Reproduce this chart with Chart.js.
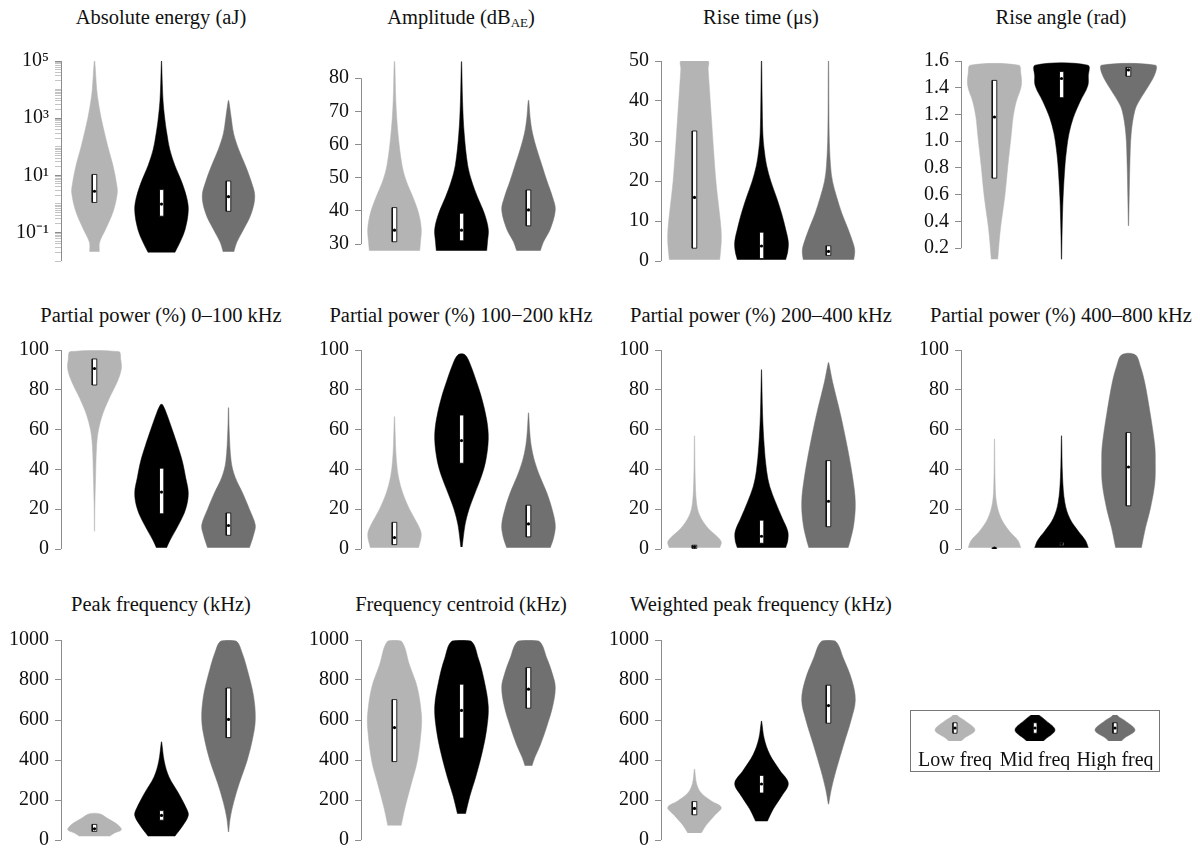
<!DOCTYPE html>
<html>
<head>
<meta charset="utf-8">
<script src="https://cdn.jsdelivr.net/npm/chart.js@4.4.1/dist/chart.umd.min.js"></script>
<style>
  body { margin: 0; width: 1200px; height: 854px; overflow: hidden; background: #fff; font-family: "Liberation Serif", serif; }
  canvas { position: absolute; }
  .title { position: absolute; width: 300px; text-align: center; font-size: 20.5px; line-height: 22px; color: #111; white-space: nowrap; }
  .title sub { font-size: 13px; line-height: 0; vertical-align: -3px; }
  #legend { position: absolute; left: 910px; top: 710px; width: 250px; height: 62px; border: 1px solid #777; box-sizing: border-box; }
</style>
</head>
<body>
<script>
// groups
const groupNames = ['Low freq', 'Mid freq', 'High freq'];
const groupColors = ['#b4b4b4', '#000000', '#707070'];

// violin outlines: [value, relative half width] from bottom to top
const energyLow = [[0.021, 0.18], [0.045, 0.19], [0.126, 0.41], [0.59, 0.71], [2.4, 0.85], [4.6, 0.83], [22, 0.69], [100, 0.5], [1000, 0.25], [3800, 0.14], [10700, 0.08], [100000, 0.01]];
const energyMid = [[0.02, 0.5], [0.045, 0.69], [0.126, 0.88], [0.59, 1.0], [1.66, 0.94], [6, 0.75], [22, 0.5], [80, 0.31], [290, 0.2], [1000, 0.12], [3800, 0.06], [16000, 0.03], [100000, 0.005]];
const energyHigh = [[0.021, 0.2], [0.045, 0.31], [0.126, 0.56], [0.46, 0.85], [1.86, 0.98], [6, 0.85], [22, 0.63], [80, 0.38], [290, 0.19], [1050, 0.1], [4100, 0.01]];

const amplitudeLow = [[28, 0.94], [30.7, 0.97], [34.5, 1.0], [39.3, 0.9], [44.1, 0.69], [49, 0.44], [53.8, 0.28], [63.4, 0.13], [73, 0.05], [85, 0.01]];
const amplitudeMid = [[28, 0.94], [30.7, 0.97], [34.5, 1.0], [39.3, 0.85], [44.1, 0.6], [49, 0.38], [53.8, 0.23], [63.4, 0.1], [73, 0.04], [85, 0.006]];
const amplitudeHigh = [[28, 0.44], [30.7, 0.56], [34.5, 0.81], [40.3, 1.0], [44.1, 0.9], [49, 0.69], [53.8, 0.5], [58.6, 0.31], [63.4, 0.15], [68.2, 0.06], [73.3, 0.01]];

const riseTimeLow = [[0.3, 0.94], [1.6, 0.96], [5, 1.0], [8, 0.99], [12, 0.93], [19.9, 0.8], [27.9, 0.71], [35.9, 0.63], [43.9, 0.55], [48, 0.51], [50, 0.5]];
const riseTimeMid = [[0.3, 0.9], [2.4, 0.98], [4.8, 1.0], [8, 0.9], [11.9, 0.75], [15.9, 0.56], [19.9, 0.35], [23.9, 0.19], [27.9, 0.1], [31.9, 0.05], [39.9, 0.025], [50, 0.006]];
const riseTimeHigh = [[0.3, 0.94], [2.4, 0.98], [4, 0.94], [8, 0.73], [11.9, 0.5], [15.9, 0.31], [19.9, 0.15], [23.9, 0.075], [31.9, 0.025], [50, 0.006]];

const riseAngleLow = [[0.117, 0.12], [0.343, 0.22], [0.581, 0.38], [0.819, 0.5], [1.057, 0.63], [1.176, 0.69], [1.295, 0.81], [1.414, 1.0], [1.51, 0.98], [1.569, 0.9]];
const riseAngleMid = [[0.117, 0.006], [0.343, 0.025], [0.581, 0.06], [0.819, 0.13], [0.938, 0.19], [1.057, 0.28], [1.176, 0.44], [1.295, 0.69], [1.414, 0.98], [1.486, 1.0], [1.569, 0.98]];
const riseAngleHigh = [[0.367, 0.006], [0.581, 0.025], [0.819, 0.05], [1.057, 0.1], [1.224, 0.23], [1.295, 0.38], [1.414, 0.75], [1.51, 1.0], [1.569, 1.0]];

const pp0Low = [[8.9, 0.004], [20, 0.012], [36, 0.04], [52, 0.08], [60, 0.15], [68, 0.31], [76, 0.56], [84, 0.85], [90.4, 1.0], [95.2, 0.98], [99.2, 0.9]];
const pp0Mid = [[0.6, 0.19], [4.2, 0.31], [12, 0.63], [20, 0.9], [28, 1.0], [36, 0.9], [44, 0.78], [52, 0.6], [60, 0.4], [68, 0.19], [72.5, 0.04]];
const pp0High = [[0.6, 0.78], [7.3, 0.94], [12, 1.0], [20, 0.78], [28, 0.53], [36, 0.25], [44, 0.1], [60, 0.025], [71, 0.006]];

const pp1Low = [[0.6, 0.9], [7.3, 1.0], [12, 0.88], [20, 0.56], [28, 0.31], [36, 0.15], [44, 0.075], [52, 0.04], [66.5, 0.006]];
const pp1Mid = [[1, 0.025], [12, 0.13], [20, 0.28], [28, 0.5], [36, 0.73], [44, 0.9], [55.3, 1.0], [64.9, 0.94], [76, 0.75], [84, 0.56], [92, 0.35], [97.6, 0.13]];
const pp1High = [[0.6, 0.81], [5.8, 0.94], [12, 1.0], [20, 0.88], [28, 0.69], [36, 0.44], [44, 0.23], [52, 0.1], [60, 0.04], [68.4, 0.006]];

const pp2Low = [[0.6, 0.94], [3.4, 1.0], [5.8, 0.88], [10.5, 0.5], [17, 0.19], [23.3, 0.075], [36, 0.025], [56.9, 0.004]];
const pp2Mid = [[0.6, 0.9], [4.2, 0.98], [8.9, 0.98], [15.3, 0.78], [23.3, 0.53], [31.3, 0.31], [39.3, 0.19], [52, 0.1], [68, 0.04], [90.1, 0.004]];
const pp2High = [[0.6, 0.73], [4.2, 0.81], [12, 0.94], [23.3, 1.0], [36, 0.9], [52, 0.69], [68, 0.44], [84, 0.15], [93.6, 0.01]];

const pp3Low = [[0.6, 0.98], [4.2, 0.88], [8.9, 0.56], [15.3, 0.25], [23.3, 0.075], [32.9, 0.025], [55.3, 0.004]];
const pp3Mid = [[0.6, 1.0], [4.2, 0.9], [8.9, 0.63], [15.3, 0.31], [23.3, 0.125], [36, 0.04], [56.9, 0.004]];
const pp3High = [[0.6, 0.48], [10.5, 0.63], [20, 0.81], [33, 0.98], [44, 1.0], [52, 0.98], [68, 0.81], [84, 0.6], [92, 0.44], [97.6, 0.25]];

const peakLow = [[19, 0.56], [35, 0.75], [51, 1.0], [75, 0.88], [107, 0.5], [131, 0.19]];
const peakMid = [[19, 0.5], [75, 0.81], [123, 1.0], [155, 0.94], [235, 0.63], [315, 0.28], [395, 0.1], [491, 0.006]];
const peakHigh = [[40, 0.006], [107, 0.06], [187, 0.19], [283, 0.4], [395, 0.69], [507, 0.9], [603, 1.0], [715, 0.94], [827, 0.75], [939, 0.5], [995, 0.28]];

const centroidLow = [[72, 0.25], [155, 0.38], [283, 0.63], [395, 0.85], [555, 1.0], [635, 1.0], [763, 0.85], [875, 0.56], [995, 0.25]];
const centroidMid = [[131, 0.15], [219, 0.31], [315, 0.53], [443, 0.78], [555, 0.94], [667, 1.0], [795, 0.85], [907, 0.63], [995, 0.35]];
const centroidHigh = [[371, 0.13], [411, 0.23], [475, 0.44], [571, 0.69], [667, 0.9], [763, 1.0], [827, 0.9], [907, 0.69], [995, 0.38]];

const weightedLow = [[35, 0.25], [75, 0.44], [123, 0.75], [163, 1.0], [195, 0.63], [235, 0.25], [283, 0.075], [355, 0.006]];
const weightedMid = [[94, 0.22], [155, 0.44], [219, 0.75], [283, 1.0], [347, 0.69], [427, 0.31], [507, 0.1], [595, 0.006]];
const weightedHigh = [[179, 0.006], [251, 0.1], [347, 0.28], [475, 0.56], [603, 0.85], [699, 1.0], [795, 0.88], [907, 0.56], [995, 0.25]];

// inner boxes: [q1, median, q3] per group
const energyBoxes = [[1.12, 2.76, 10.7], [0.37, 0.98, 3.16], [0.55, 1.78, 6.3]];
const amplitudeBoxes = [[30.7, 34.2, 41.0], [31.0, 34.2, 39.3], [35.5, 40.3, 46.3]];
const riseTimeBoxes = [[3.2, 15.9, 32.5], [0.6, 3.75, 7.2], [1.4, 2.4, 3.8]];
const riseAngleBoxes = [[0.724, 1.181, 1.455], [1.326, 1.469, 1.521], [1.486, 1.533, 1.552]];
const pp0Boxes = [[82.4, 90.7, 95.5], [17.7, 28.6, 40.6], [6.9, 11.8, 18.1]];
const pp1Boxes = [[2.2, 5.75, 13.4], [43.1, 54.5, 67.3], [6.1, 12.6, 22]];
const pp2Boxes = [[0.3, 1.1, 1.9], [2.9, 6.4, 14.5], [11.2, 24, 44.4]];
const pp3Boxes = [[0.2, 0.4, 0.6], [1.8, 2.6, 3.3], [21.7, 41.2, 58.5]];
const peakBoxes = [[43, 56, 78], [99, 123, 147], [512, 603, 760]];
const centroidBoxes = [[392, 562, 702], [510, 648, 779], [659, 754, 862]];
const weightedBoxes = [[126, 158, 192], [235, 280, 323], [584, 672, 774]];

// tick values and labels
const energyTicks = [0.1, 10, 1000, 100000];
const energyTickLabels = ['10\u207B\u00B9', '10\u00B9', '10\u00B3', '10\u2075'];
const amplitudeTicks = [30, 40, 50, 60, 70, 80];
const riseTimeTicks = [0, 10, 20, 30, 40, 50];
const riseAngleTicks = [0.2, 0.4, 0.6, 0.8, 1.0, 1.2, 1.4, 1.6];
const percentTicks = [0, 20, 40, 60, 80, 100];
const freqTicks = [0, 200, 400, 600, 800, 1000];

// legend icons
const iconLow = [[-0.85, 0.06], [-0.5, 0.45], [-0.1, 1.0], [0.35, 0.5], [0.6, 0.12], [0.95, 0.01]];
const iconMid = [[-0.95, 0.04], [-0.55, 0.5], [-0.1, 1.0], [0.35, 0.55], [0.7, 0.06]];
const iconHigh = [[-0.9, 0.04], [-0.5, 0.45], [-0.1, 1.0], [0.35, 0.5], [0.6, 0.12], [1.0, 0.01]];
const iconBox = [-0.25, 0, 0.25];

const FONT = '"Liberation Serif", serif';
const AXIS_W = 56;
const rowTop = [58, 347, 637];
const rowBottom = [267, 555, 846];
const titleTop = [6, 304, 593];
const spineX = [61, 361, 661, 961];

const panels = [
	{title: 'Absolute energy (aJ)', profiles: [energyLow, energyMid, energyHigh], boxes: energyBoxes, ticks: energyTicks, labels: energyTickLabels, min: 0.01, max: 100000, log: true},
	{title: 'Amplitude (dB<sub>AE</sub>)', profiles: [amplitudeLow, amplitudeMid, amplitudeHigh], boxes: amplitudeBoxes, ticks: amplitudeTicks, min: 24.9, max: 85.2},
	{title: 'Rise time (\u03BCs)', profiles: [riseTimeLow, riseTimeMid, riseTimeHigh], boxes: riseTimeBoxes, ticks: riseTimeTicks, min: 0, max: 50},
	{title: 'Rise angle (rad)', profiles: [riseAngleLow, riseAngleMid, riseAngleHigh], boxes: riseAngleBoxes, ticks: riseAngleTicks, min: 0.104, max: 1.6, decimals: 1},
	{title: 'Partial power (%) 0\u2013100 kHz', profiles: [pp0Low, pp0Mid, pp0High], boxes: pp0Boxes, ticks: percentTicks, min: 0, max: 100},
	{title: 'Partial power (%) 100\u2212200 kHz', profiles: [pp1Low, pp1Mid, pp1High], boxes: pp1Boxes, ticks: percentTicks, min: 0, max: 100},
	{title: 'Partial power (%) 200\u2013400 kHz', profiles: [pp2Low, pp2Mid, pp2High], boxes: pp2Boxes, ticks: percentTicks, min: 0, max: 100},
	{title: 'Partial power (%) 400\u2013800 kHz', profiles: [pp3Low, pp3Mid, pp3High], boxes: pp3Boxes, ticks: percentTicks, min: 0, max: 100},
	{title: 'Peak frequency (kHz)', profiles: [peakLow, peakMid, peakHigh], boxes: peakBoxes, ticks: freqTicks, min: 0, max: 1000},
	{title: 'Frequency centroid (kHz)', profiles: [centroidLow, centroidMid, centroidHigh], boxes: centroidBoxes, ticks: freqTicks, min: 0, max: 1000},
	{title: 'Weighted peak frequency (kHz)', profiles: [weightedLow, weightedMid, weightedHigh], boxes: weightedBoxes, ticks: freqTicks, min: 0, max: 1000}
];

const violinOutline = (profile, center, half) => {
	const right = profile.map(([y, w]) => ({x: center + w * half, y}));
	const left = profile.slice().reverse().map(([y, w]) => ({x: center - w * half, y}));
	return right.concat(left);
};

const boxOutline = (center, q1, q3, half) => [
	{x: center - half, y: q1},
	{x: center + half, y: q1},
	{x: center + half, y: q3},
	{x: center - half, y: q3},
	{x: center - half, y: q1}
];

const groupDatasets = (profiles, boxes, violinHalf, boxHalf) => {
	const datasets = [];
	profiles.forEach((profile, g) => {
		datasets.push({
			data: violinOutline(profile, g, violinHalf),
			showLine: true,
			fill: 'shape',
			backgroundColor: groupColors[g],
			borderColor: groupColors[g],
			borderWidth: 0.5,
			pointRadius: 0,
			tension: 0.35,
			order: 3
		});
		const [q1, med, q3] = boxes[g];
		datasets.push({
			data: boxOutline(g, q1, q3, boxHalf),
			showLine: true,
			fill: 'shape',
			backgroundColor: '#ffffff',
			borderColor: '#000000',
			borderWidth: 0.8,
			pointRadius: 0,
			tension: 0,
			order: 2
		});
		datasets.push({
			data: [{x: g, y: med}],
			pointRadius: 1.6,
			pointBackgroundColor: '#000000',
			pointBorderWidth: 0,
			order: 1
		});
	});
	return datasets;
};

// spine trimmed to first/last tick
const spinePlugin = {
	id: 'spine',
	afterDraw(chart) {
		const scale = chart.scales.y;
		if (!scale.options.display) return;
		const ticks = scale.ticks;
		const ctx = chart.ctx;
		const x = Math.round(chart.chartArea.left - 0.5) + 0.5;
		ctx.save();
		ctx.strokeStyle = '#8c8c8c';
		ctx.lineWidth = 1;
		ctx.beginPath();
		ctx.moveTo(x, scale.getPixelForValue(ticks[0].value));
		ctx.lineTo(x, scale.getPixelForValue(ticks[ticks.length - 1].value));
		ctx.stroke();
		ctx.restore();
	}
};

const isLabeled = (panel, v) => panel.ticks.some((t) => Math.abs(t - v) <= Math.abs(t) * 1e-6 + 1e-9);

const tickList = (panel) => {
	if (!panel.log) return panel.ticks.slice();
	const list = [];
	for (let e = -2; e <= 4; e++) {
		for (let m = 1; m <= 9; m++) list.push(Number((m * Math.pow(10, e)).toPrecision(3)));
	}
	list.push(panel.max);
	return list;
};

const tickLabel = (panel, v) => {
	const i = panel.ticks.findIndex((t) => Math.abs(t - v) <= Math.abs(t) * 1e-6 + 1e-9);
	if (i < 0) return '';
	if (panel.labels) return panel.labels[i];
	return panel.decimals ? panel.ticks[i].toFixed(panel.decimals) : String(panel.ticks[i]);
};

const createPanel = (panel, index) => {
	const row = Math.floor(index / 4);
	const col = index % 4;
	const spine = spineX[col];

	const title = document.createElement('div');
	title.className = 'title';
	title.style.left = (spine + 100 - 150) + 'px';
	title.style.top = titleTop[row] + 'px';
	title.innerHTML = panel.title;
	document.body.appendChild(title);

	const width = AXIS_W + 201 + 4;
	const height = (rowBottom[row] - rowTop[row]) + 15 + 12;
	const canvas = document.createElement('canvas');
	canvas.width = width;
	canvas.height = height;
	canvas.style.left = (spine - AXIS_W) + 'px';
	canvas.style.top = (rowTop[row] - 15) + 'px';
	canvas.style.width = width + 'px';
	canvas.style.height = height + 'px';
	document.body.appendChild(canvas);

	return new Chart(canvas, {
		type: 'scatter',
		data: {datasets: groupDatasets(panel.profiles, panel.boxes, 0.4, 0.034)},
		options: {
			responsive: false,
			animation: false,
			events: [],
			layout: {padding: {top: 15, bottom: 12, left: 0, right: 4}},
			plugins: {legend: {display: false}, tooltip: {enabled: false}},
			scales: {
				x: {type: 'linear', display: false, min: -0.5, max: 2.5},
				y: {
					type: panel.log ? 'logarithmic' : 'linear',
					min: panel.min,
					max: panel.max,
					border: {display: false},
					grid: {
						display: true,
						drawOnChartArea: false,
						drawTicks: true,
						tickLength: 6,
						tickWidth: 1,
						tickColor: (ctx) => (ctx.tick && isLabeled(panel, ctx.tick.value)) ? '#8c8c8c' : '#c4c4c4'
					},
					ticks: {
						autoSkip: false,
						padding: 6,
						color: '#111',
						font: {family: FONT, size: 20},
						callback: (v) => tickLabel(panel, v)
					},
					afterBuildTicks: (scale) => {
						scale.ticks = tickList(panel).map((v) => ({value: v}));
					},
					afterFit: (scale) => {
						scale.width = AXIS_W;
					}
				}
			}
		},
		plugins: [spinePlugin]
	});
};

const createLegend = () => {
	const box = document.createElement('div');
	box.id = 'legend';
	document.body.appendChild(box);
	const canvas = document.createElement('canvas');
	canvas.width = 248;
	canvas.height = 60;
	canvas.style.left = '0px';
	canvas.style.top = '0px';
	canvas.style.width = '248px';
	canvas.style.height = '60px';
	box.appendChild(canvas);

	const iconBoxes = [iconBox, iconBox, iconBox];
	return new Chart(canvas, {
		type: 'scatter',
		data: {datasets: groupDatasets([iconLow, iconMid, iconHigh], iconBoxes, 0.25, 0.025)},
		options: {
			responsive: false,
			animation: false,
			events: [],
			layout: {padding: {top: 1, bottom: 1, left: 0, right: 0}},
			plugins: {legend: {display: false}, tooltip: {enabled: false}},
			scales: {
				x: {
					type: 'linear',
					min: -0.5,
					max: 2.5,
					border: {display: false},
					grid: {display: false},
					ticks: {
						autoSkip: false,
						maxRotation: 0,
						padding: 0,
						color: '#111',
						font: {family: FONT, size: 20},
						callback: (v) => groupNames[v] || ''
					},
					afterBuildTicks: (scale) => {
						scale.ticks = groupNames.map((_, i) => ({value: i}));
					}
				},
				y: {type: 'linear', display: false, min: -0.62, max: 0.62}
			}
		}
	});
};

panels.forEach(createPanel);
createLegend();
</script>
</body>
</html>
